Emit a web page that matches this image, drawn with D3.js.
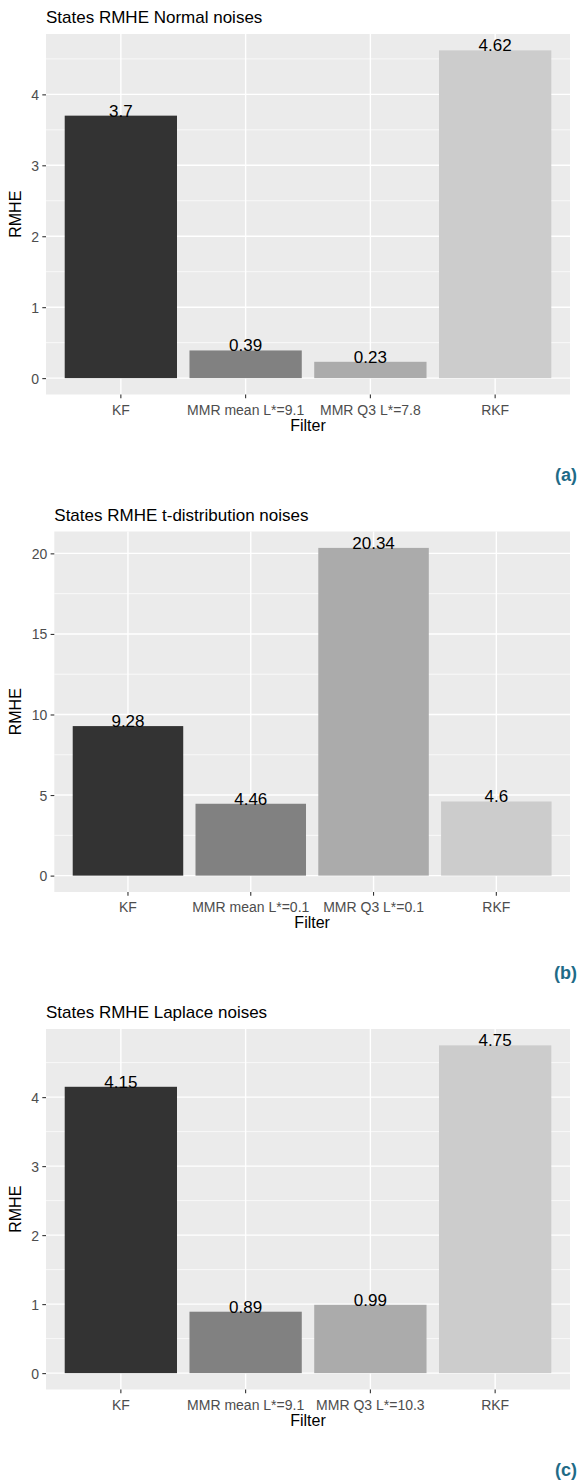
<!DOCTYPE html>
<html>
<head>
<meta charset="utf-8">
<script src="https://cdn.jsdelivr.net/npm/d3@7"></script>
<style>
  html, body { margin: 0; padding: 0; background: #ffffff; }
  svg { display: block; }
  text { font-family: "Liberation Sans", Arial, sans-serif; }
</style>
</head>
<body>
<svg id="chart" width="579" height="1481"></svg>
<script>
// ---- data ----
const titles = ["States RMHE Normal noises", "States RMHE t-distribution noises", "States RMHE Laplace noises"];
const panelTags = ["(a)", "(b)", "(c)"];
const categoriesA = ["KF", "MMR mean L*=9.1", "MMR Q3 L*=7.8", "RKF"];
const valuesA = [3.7, 0.39, 0.23, 4.62];
const categoriesB = ["KF", "MMR mean L*=0.1", "MMR Q3 L*=0.1", "RKF"];
const valuesB = [9.28, 4.46, 20.34, 4.6];
const categoriesC = ["KF", "MMR mean L*=9.1", "MMR Q3 L*=10.3", "RKF"];
const valuesC = [4.15, 0.89, 0.99, 4.75];
const ticksA = [0, 1, 2, 3, 4];
const ticksB = [0, 5, 10, 15, 20];
const ticksC = [0, 1, 2, 3, 4];
const fillColors = ["#333333", "#818181", "#ABABAB", "#CCCCCC"];
const xTitle = "Filter";
const yTitle = "RMHE";

const panels = [
  { cats: categoriesA, vals: valuesA, ticks: ticksA, left: 46 },
  { cats: categoriesB, vals: valuesB, ticks: ticksB, left: 54.3 },
  { cats: categoriesC, vals: valuesC, ticks: ticksC, left: 46 }
];

const svg = d3.select("#chart");
const blockH = 497.5;
const right = 570;
const tickFont = 14;

panels.forEach((p, i) => {
  const top0 = i * blockH;
  const pTop = top0 + 34;
  const pBot = top0 + 394.5;
  const left = p.left;
  const g = svg.append("g");

  const maxV = d3.max(p.vals);
  const y = d3.scaleLinear().domain([-0.05 * maxV, 1.05 * maxV]).range([pBot, pTop]);
  const x = d3.scaleBand().domain(p.cats).range([left, right]).paddingInner(0.1).paddingOuter(0.15);
  const color = d3.scaleOrdinal().domain(p.cats).range(fillColors);

  // panel background
  g.append("rect").attr("x", left).attr("y", pTop).attr("width", right - left).attr("height", pBot - pTop).attr("fill", "#EBEBEB");

  // minor gridlines
  const step = p.ticks[1] - p.ticks[0];
  const minor = p.ticks.map(t => t + step / 2).filter(v => y(v) >= pTop && y(v) <= pBot);
  g.selectAll(".minor").data(minor).join("line")
    .attr("x1", left).attr("x2", right)
    .attr("y1", d => y(d)).attr("y2", d => y(d))
    .attr("stroke", "#ffffff").attr("stroke-width", 0.7);
  // major gridlines
  g.selectAll(".major").data(p.ticks).join("line")
    .attr("x1", left).attr("x2", right)
    .attr("y1", d => y(d)).attr("y2", d => y(d))
    .attr("stroke", "#ffffff").attr("stroke-width", 1.4);
  g.selectAll(".vmajor").data(p.cats).join("line")
    .attr("x1", d => x(d) + x.bandwidth() / 2).attr("x2", d => x(d) + x.bandwidth() / 2)
    .attr("y1", pTop).attr("y2", pBot)
    .attr("stroke", "#ffffff").attr("stroke-width", 1.4);

  // bars
  const rows = p.cats.map((c, k) => ({ c, v: p.vals[k] }));
  g.selectAll(".bar").data(rows).join("rect")
    .attr("x", d => x(d.c)).attr("width", x.bandwidth())
    .attr("y", d => y(d.v)).attr("height", d => y(0) - y(d.v))
    .attr("fill", d => color(d.c));

  // value labels
  g.selectAll(".vlab").data(rows).join("text")
    .attr("x", d => x(d.c) + x.bandwidth() / 2)
    .attr("y", d => y(d.v) + 1)
    .attr("text-anchor", "middle")
    .attr("font-size", 17).attr("fill", "#000000")
    .text(d => String(d.v));

  // y axis
  const ya = g.append("g").attr("transform", `translate(${left},0)`)
    .call(d3.axisLeft(y).tickValues(p.ticks).tickSize(3.7).tickPadding(3.2).tickFormat(d3.format("d")));
  ya.select(".domain").remove();
  ya.selectAll("line").attr("stroke", "#333333").attr("stroke-width", 1.1);
  ya.selectAll("text").attr("fill", "#4D4D4D").attr("font-size", tickFont)
    .attr("font-family", "Liberation Sans, Arial, sans-serif").attr("dy", "0.36em");

  // x axis
  const xa = g.append("g").attr("transform", `translate(0,${pBot})`)
    .call(d3.axisBottom(x).tickSize(3.7));
  xa.select(".domain").remove();
  xa.selectAll("line").attr("stroke", "#333333").attr("stroke-width", 1.1);
  xa.selectAll("text").attr("fill", "#4D4D4D").attr("font-size", tickFont)
    .attr("font-family", "Liberation Sans, Arial, sans-serif")
    .attr("y", 20).attr("dy", 0);

  // titles
  g.append("text").attr("x", left).attr("y", top0 + 23)
    .attr("font-size", 17).attr("fill", "#000000").text(titles[i]);
  g.append("text").attr("x", (left + right) / 2).attr("y", pBot + 36)
    .attr("text-anchor", "middle").attr("font-size", 16).attr("fill", "#000000").text(xTitle);
  g.append("text")
    .attr("transform", `translate(21,${(pTop + pBot) / 2}) rotate(-90)`)
    .attr("text-anchor", "middle").attr("font-size", 16).attr("fill", "#000000").text(yTitle);

  // panel tag
  g.append("text").attr("x", 577).attr("y", top0 + 481)
    .attr("text-anchor", "end").attr("font-size", 18).attr("font-weight", "bold")
    .attr("font-family", "Lato, 'Open Sans', sans-serif")
    .attr("fill", "#1F6B87").text(panelTags[i]);
});
</script>
</body>
</html>
